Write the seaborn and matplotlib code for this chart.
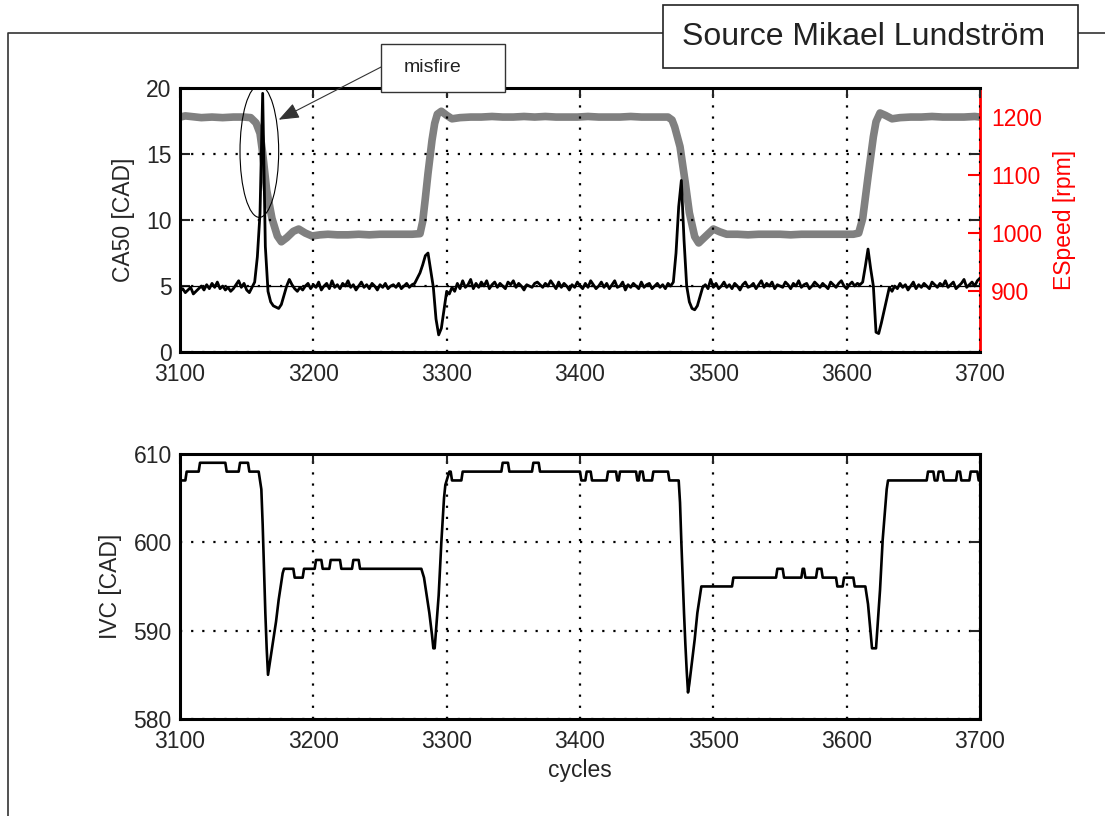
import numpy as np
import pandas as pd
import seaborn as sns
import matplotlib.pyplot as plt
from matplotlib.patches import Rectangle, Ellipse
from matplotlib.lines import Line2D

# CA50 [CAD], one sample every 2 cycles from 3100 to 3700
ca50_cycles = np.arange(3100, 3701, 2)
ca50_values = [
    4.6, 4.8, 4.5, 4.7, 4.9, 4.4, 4.6, 4.8, 5.0, 4.7, 5.1, 4.8, 5.2, 4.9, 5.3, 4.8, 5.0, 4.7, 4.9, 4.6,
    4.8, 5.1, 5.4, 4.9, 5.2, 4.7, 4.5, 4.9, 5.3, 7.2, 10.5, 19.6, 8.0, 4.6, 3.8, 3.5, 3.4, 3.3, 3.6, 4.3,
    5.0, 5.5, 5.1, 4.8, 4.6, 4.9, 4.7, 5.0, 5.2, 4.8, 5.1, 4.9, 5.3, 4.7, 5.0, 5.2, 4.8, 5.4, 4.9, 5.1,
    4.8, 5.2, 5.0, 5.4, 4.9, 5.1, 4.7, 5.0, 5.3, 4.9, 5.1, 4.8, 5.2, 5.0, 4.7, 5.1, 4.9, 5.2, 4.8, 5.0,
    5.1, 4.9, 5.2, 4.8, 5.0, 5.2, 4.9, 5.1, 5.2, 5.6, 6.0, 6.6, 7.3, 7.5, 6.2, 4.9, 2.5, 1.3, 1.8, 3.2,
    4.6, 4.4, 4.9, 4.6, 5.2, 4.8, 5.4, 4.9, 5.1, 5.5, 4.8, 5.2, 4.9, 5.3, 5.0, 5.4, 4.8, 5.1, 5.3, 4.9,
    5.2, 5.0, 4.8, 5.3, 5.1, 5.4, 4.9, 5.2, 5.0, 4.7, 5.1, 5.0, 4.9, 5.2, 5.3, 5.1, 4.9, 5.2, 5.0, 5.4,
    5.1, 4.8, 5.3, 4.9, 5.2, 5.0, 4.7, 5.1, 4.9, 5.3, 5.0, 4.8, 5.2, 4.9, 5.4, 5.1, 4.8, 5.0, 5.3, 4.9,
    5.2, 4.8, 5.1, 5.4, 4.9, 5.0, 5.3, 4.7, 5.1, 4.9, 5.2, 5.0, 4.8, 5.3, 4.9, 5.1, 5.2, 4.8, 5.0, 5.2,
    4.9, 5.1, 4.8, 5.2, 5.0, 5.3, 7.5, 11.0, 13.0, 8.5, 5.0, 3.8, 3.3, 3.2, 3.5, 4.2, 4.9, 5.1, 4.8, 5.5,
    4.9, 5.2, 4.8, 5.0, 5.3, 4.9, 5.1, 4.8, 5.2, 5.0, 4.7, 5.1, 5.3, 4.9, 5.0, 5.2, 4.8, 5.1, 5.4, 4.9,
    5.2, 5.0, 5.3, 4.8, 5.1, 5.0, 4.9, 5.3, 5.1, 4.8, 5.2, 5.0, 5.4, 4.9, 5.1, 5.2, 4.8, 5.0, 5.3, 5.1,
    4.9, 5.2, 5.0, 4.8, 5.3, 5.1, 4.9, 5.2, 5.4, 5.0, 4.8, 5.1, 5.3, 5.0, 5.2, 5.1, 5.3, 6.5, 7.8, 6.3,
    5.0, 1.5, 1.4, 2.2, 3.1, 4.0, 4.9, 4.6, 5.0, 4.8, 5.2, 4.9, 5.1, 4.7, 5.0, 5.3, 4.8, 5.1, 4.9, 5.2,
    5.0, 4.8, 5.3, 5.1, 4.9, 5.2, 5.0, 5.4, 4.9, 5.1, 5.3, 4.8, 5.0, 5.2, 5.5, 4.9, 5.1, 5.3, 5.0, 5.4,
    5.6,
]

# CA50 reference
ref_cycles = [3100, 3700]
ref_values = [5, 5]

# engine speed [rpm]
speed_cycles = [3100, 3104, 3108, 3116, 3124, 3132, 3140, 3148, 3153, 3157, 3160, 3162, 3165, 3169,
                3173, 3176, 3180, 3185, 3189, 3194, 3199, 3205, 3211, 3218, 3226, 3234, 3242, 3250,
                3258, 3266, 3274, 3280, 3282, 3284, 3286, 3289, 3291, 3293, 3296, 3300, 3304, 3310,
                3318, 3326, 3334, 3342, 3350, 3358, 3366, 3374, 3382, 3390, 3398, 3406, 3414, 3422,
                3430, 3438, 3446, 3454, 3462, 3466, 3469, 3471, 3475, 3479, 3482, 3486, 3489, 3494,
                3500, 3505, 3510, 3518, 3526, 3534, 3542, 3550, 3558, 3566, 3574, 3582, 3590, 3598,
                3605, 3609, 3612, 3616, 3620, 3622, 3625, 3629, 3634, 3640, 3648, 3656, 3664, 3672,
                3680, 3688, 3696, 3700]
speed_values = [1200, 1202, 1201, 1199, 1200, 1199, 1200, 1200, 1199, 1190, 1172, 1138, 1074, 1025,
                995, 985, 992, 1003, 1007, 1000, 995, 997, 998, 997, 997, 998, 997, 998,
                998, 998, 998, 999, 1020, 1060, 1103, 1160, 1189, 1205, 1210, 1203, 1197, 1199,
                1200, 1200, 1201, 1200, 1200, 1201, 1200, 1201, 1200, 1200, 1200, 1201, 1200, 1200,
                1200, 1201, 1200, 1200, 1200, 1200, 1195, 1183, 1149, 1086, 1035, 994, 983, 994,
                1007, 1002, 998, 998, 997, 998, 998, 998, 997, 998, 998, 998, 998, 998,
                998, 1000, 1025, 1097, 1166, 1192, 1207, 1203, 1197, 1199, 1200, 1200, 1201, 1200,
                1200, 1200, 1201, 1200]

# IVC [CAD]
ivc_cycles = [3100, 3104, 3105, 3114, 3115, 3134, 3135, 3144, 3145, 3151, 3152, 3159, 3160, 3161,
              3162, 3163, 3164, 3165, 3166, 3167, 3168, 3170, 3172, 3174, 3176, 3177, 3178, 3185,
              3186, 3192, 3193, 3201, 3202, 3206, 3207, 3212, 3213, 3220, 3221, 3229, 3230, 3234,
              3235, 3281, 3283, 3285, 3287, 3289, 3290, 3291, 3292, 3294, 3296, 3298, 3299, 3300,
              3302, 3303, 3304, 3311, 3312, 3341, 3342, 3346, 3347, 3364, 3365, 3369, 3370, 3400,
              3401, 3404, 3405, 3408, 3409, 3420, 3421, 3427, 3428, 3429, 3430, 3442, 3443, 3444,
              3445, 3447, 3448, 3454, 3455, 3466, 3467, 3474, 3475, 3476, 3477, 3478, 3479, 3480,
              3481, 3482, 3484, 3486, 3488, 3490, 3491, 3514, 3515, 3547, 3548, 3552, 3553, 3566,
              3567, 3568, 3569, 3577, 3578, 3581, 3582, 3592, 3593, 3597, 3598, 3605, 3606, 3614,
              3616, 3618, 3619, 3622, 3625, 3627, 3630, 3631, 3660, 3661, 3665, 3666, 3668, 3669,
              3672, 3673, 3682, 3683, 3685, 3686, 3692, 3693, 3698, 3699, 3700]
ivc_values = [607, 607, 608, 608, 609, 609, 608, 608, 609, 609, 608, 608, 607, 606,
              602, 597, 592, 588, 585, 586, 587, 589, 591, 593.5, 595.5, 596.5, 597, 597,
              596, 596, 597, 597, 598, 598, 597, 597, 598, 598, 597, 597, 598, 598,
              597, 597, 596, 594, 592, 589.5, 588, 588, 590, 594, 600, 605, 606.5, 607,
              608, 608, 607, 607, 608, 608, 609, 609, 608, 608, 609, 609, 608, 608,
              607, 607, 608, 608, 607, 607, 608, 608, 607, 607, 608, 608, 607, 607,
              608, 608, 607, 607, 608, 608, 607, 607, 604.5, 600, 596, 592, 588.5, 585.5,
              583, 584, 586.5, 589, 592, 594, 595, 595, 596, 596, 597, 597, 596, 596,
              597, 597, 596, 596, 597, 597, 596, 596, 595, 595, 596, 596, 595, 595,
              593, 589.7, 588, 588, 594.6, 600.3, 606, 607, 607, 608, 608, 607, 607, 608,
              608, 607, 607, 608, 608, 607, 607, 608, 608, 607, 607]

x_ticks = [3100, 3200, 3300, 3400, 3500, 3600, 3700]
ca50_ticks = [0, 5, 10, 15, 20]
speed_ticks = [900, 1000, 1100, 1200]
ivc_ticks = [580, 590, 600, 610]

sns.set_style("white")
plt.rcParams['font.family'] = ['Liberation Sans', 'DejaVu Sans']

fs = 16.5
grid_style = dict(color='black', linestyle=(0, (1, 4)), linewidth=1.6)

fig = plt.figure(figsize=(11.05, 8.16), dpi=100)

# top panel: CA50 + engine speed
ax1 = fig.add_axes([0.1629, 0.5686, 0.724, 0.3235])
ax2 = ax1.twinx()
ax1.set_zorder(ax2.get_zorder() + 1)
ax1.patch.set_visible(False)

sns.lineplot(x=speed_cycles, y=speed_values, ax=ax2, color='#808080', linewidth=5.5)
sns.lineplot(x=ref_cycles, y=ref_values, ax=ax1, color='black', linewidth=0.9)
sns.lineplot(x=ca50_cycles, y=ca50_values, ax=ax1, color='black', linewidth=2.0)

ax1.set_xlim(3100, 3700)
ax1.set_ylim(0, 20)
ax1.set_xticks(x_ticks)
ax1.set_yticks(ca50_ticks)
ax1.grid(True, **grid_style)
ax1.set_ylabel('CA50 [CAD]', fontsize=fs, labelpad=8)
ax1.tick_params(direction='in', length=7, width=1.5, top=True, right=True,
                labelsize=fs, pad=6)
ax1.tick_params(axis='x', pad=8)
for s in ['left', 'top', 'bottom']:
    ax1.spines[s].set_linewidth(2.2)
    ax1.spines[s].set_color('black')
ax1.spines['right'].set_visible(False)

ax2.set_ylim(795, 1250)
ax2.set_yticks(speed_ticks)
ax2.tick_params(axis='y', direction='in', length=9, width=1.5, colors='red',
                labelsize=fs, pad=8)
ax2.set_ylabel('ESpeed [rpm]', color='red', fontsize=fs, labelpad=8)
ax2.spines['right'].set_color('red')
ax2.spines['right'].set_linewidth(2)
for s in ['left', 'top', 'bottom']:
    ax2.spines[s].set_visible(False)

# misfire mark
ax1.add_patch(Ellipse((3159.5, 15.2), width=29, height=10, fill=False,
                      edgecolor='black', linewidth=0.8))
ax1.annotate('', xy=(3174, 17.6), xytext=(381.7 / 1105, 1 - 66.7 / 816),
             textcoords='figure fraction',
             arrowprops=dict(arrowstyle='-|>,head_length=0.9,head_width=0.35',
                             color='#333333', linewidth=0.8, mutation_scale=14,
                             shrinkA=0, shrinkB=0))

# bottom panel: IVC
ax3 = fig.add_axes([0.1629, 0.1189, 0.724, 0.3248])
sns.lineplot(x=ivc_cycles, y=ivc_values, ax=ax3, color='black', linewidth=1.9)
ax3.set_xlim(3100, 3700)
ax3.set_ylim(580, 610)
ax3.set_xticks(x_ticks)
ax3.set_yticks(ivc_ticks)
ax3.grid(True, **grid_style)
ax3.set_axisbelow(True)
ax3.set_xlabel('cycles', fontsize=fs, labelpad=4)
ax3.set_ylabel('IVC [CAD]', fontsize=fs, labelpad=8)
ax3.tick_params(direction='in', length=7, width=1.5, top=True, right=True,
                labelsize=fs, pad=6)
ax3.tick_params(axis='x', pad=8)
for s in ax3.spines.values():
    s.set_linewidth(2.2)
    s.set_color('black')

# page frame and boxes
W, H = 1105, 816
frame = dict(color='#333333', linewidth=1.2, transform=fig.transFigure)
fig.add_artist(Line2D([8 / W, 8 / W, 663 / W], [0, 1 - 33 / H, 1 - 33 / H], **frame))
fig.add_artist(Line2D([1078 / W, 1], [1 - 33 / H, 1 - 33 / H], **frame))

fig.add_artist(Rectangle((663 / W, 1 - 68 / H), 415 / W, 63 / H, transform=fig.transFigure,
                         facecolor='white', edgecolor='#222222', linewidth=1.2, zorder=5))
fig.text(864 / W, 1 - 37 / H, 'Source Mikael Lundström', fontsize=23, color='#222222',
         ha='center', va='center', zorder=6)

fig.add_artist(Rectangle((381 / W, 1 - 92 / H), 124 / W, 48 / H, transform=fig.transFigure,
                         facecolor='white', edgecolor='#333333', linewidth=1.0, zorder=5))
fig.text(433 / W, 1 - 67 / H, 'misfire', fontsize=14, color='#222222',
         ha='center', va='center', zorder=6)

fig.savefig('out.png', dpi=100)
